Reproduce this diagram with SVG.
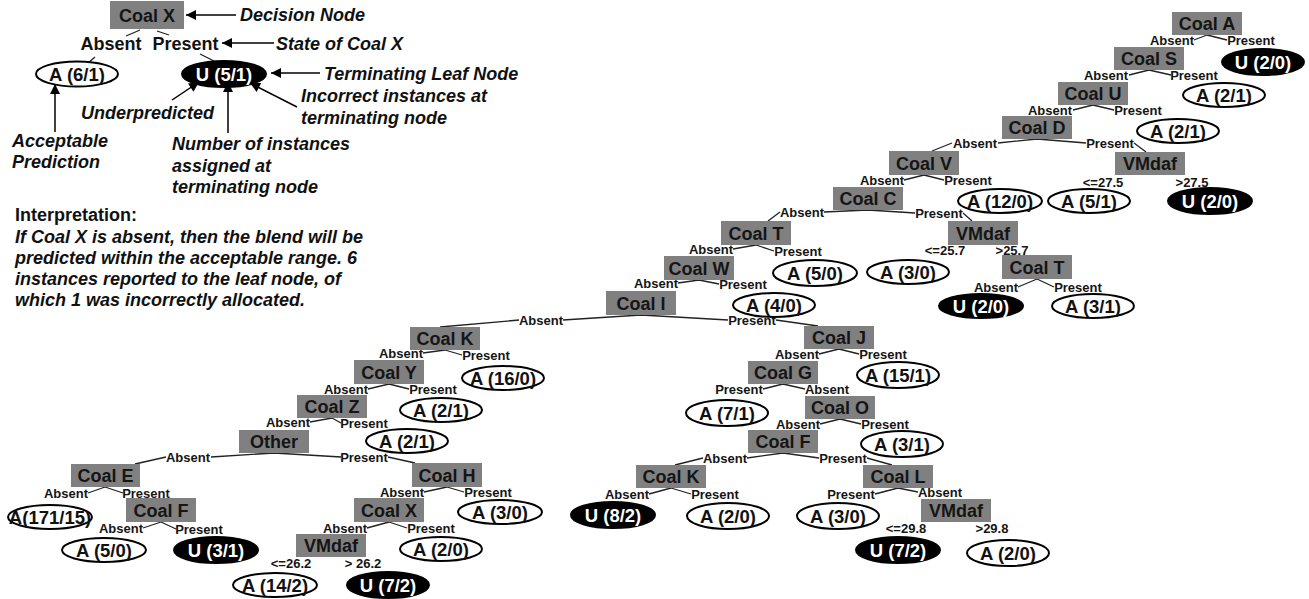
<svg xmlns="http://www.w3.org/2000/svg" width="1309" height="599" viewBox="0 0 1309 599">
<defs>
<marker id="ah" viewBox="0 0 10 10" refX="10" refY="5" markerWidth="11" markerHeight="10" markerUnits="userSpaceOnUse" orient="auto"><path d="M0,0 L10,5 L0,10 z" fill="#000"/></marker>
</defs>
<style>
.box{fill:#808080}
.bt{font:bold 18px 'Liberation Sans',Arial,sans-serif;fill:#151515;text-anchor:middle}
.lb{font:bold 13px 'Liberation Sans',Arial,sans-serif;fill:#151515;text-anchor:middle}
.la{fill:#fff;stroke:#000;stroke-width:2}
.lu{fill:#000;stroke:#000;stroke-width:2}
.ta{font:bold 18.5px 'Liberation Sans',Arial,sans-serif;fill:#111;text-anchor:middle}
.tu{font:bold 18.5px 'Liberation Sans',Arial,sans-serif;fill:#fff;text-anchor:middle}
.edge{stroke:#222;stroke-width:1.3;fill:none}
.arr{stroke:#000;stroke-width:1.5;fill:none;marker-end:url(#ah)}
.note{font:italic bold 18px 'Liberation Sans',Arial,sans-serif;fill:#111}
.st{font:bold 18px 'Liberation Sans',Arial,sans-serif;fill:#111}
</style>
<rect width="1309" height="599" fill="#fff"/>

<!-- key -->
<g id="key">
<path class="edge" d="M140,30 L126,36 M157,31 L169,35 M200,54 L214,61 M95,57 L88,63"/>
<rect class="box" x="110" y="1" width="74" height="28"/>
<text class="bt" x="147" y="22">Coal X</text>
<text class="st" x="111" y="50" text-anchor="middle">Absent</text>
<text class="st" x="185.5" y="50" text-anchor="middle">Present</text>
<ellipse class="la" cx="77" cy="74" rx="41" ry="12.5"/>
<text class="ta" x="77" y="80.5">A (6/1)</text>
<ellipse class="lu" cx="224" cy="74" rx="42" ry="13"/>
<text class="tu" x="224" y="80.5">U (5/1)</text>
<path class="arr" d="M236,15 L186,15"/>
<path class="arr" d="M274,43 L222,43"/>
<path class="arr" d="M320,73 L271,73"/>
<path class="arr" d="M55,132 L55,84"/>
<path class="arr" d="M172,100 L199,82"/>
<path class="arr" d="M228,133 L228,82"/>
<path class="arr" d="M297,107 L250,83"/>
<text class="note" x="240" y="21">Decision Node</text>
<text class="note" x="276" y="50">State of Coal X</text>
<text class="note" x="324" y="80">Terminating Leaf Node</text>
<text class="note" x="81" y="119">Underpredicted</text>
<text class="note" x="301" y="102">Incorrect instances at</text>
<text class="note" x="301" y="124">terminating node</text>
<text class="note" x="12" y="147">Acceptable</text>
<text class="note" x="12" y="168">Prediction</text>
<text class="note" x="172" y="150">Number of instances</text>
<text class="note" x="172" y="172">assigned at</text>
<text class="note" x="172" y="193">terminating node</text>
</g>

<g id="interpretation">
<text class="st" x="15" y="221">Interpretation:</text>
<text class="note" x="15" y="243">If Coal X is absent, then the blend will be</text>
<text class="note" x="15" y="264">predicted within the acceptable range. 6</text>
<text class="note" x="15" y="285">instances reported to the leaf node, of</text>
<text class="note" x="15" y="306">which 1 was incorrectly allocated.</text>
</g>

<!-- branches and their labels -->
<g id="connectors">
<path class="edge" d="
M1207,35 L1194,40 M1207,35 L1227,40
M1149,70 L1129,75 M1149,70 L1171,75
M1093,105 L1073,110 M1093,105 L1114,110
M1037,139 L998,143 M1037,139 L1086,143 M952,143 L932,151 M1134,143 L1146,152
M924,175 L904,180 M924,175 L944,180
M868,210 L824,212 M868,210 L915,213 M780,212 L768,221 M963,213 L972,221
M1037,279 L1018,287 M1037,279 L1054,287
M756,245 L733,249 M756,245 L774,251
M699,280 L678,283 M699,280 L719,284
M641,315 L563,320 M641,315 L728,320 M519,320 L440,327 M776,320 L818,326
M839,349 L819,354 M839,349 L859,354
M783,384 L763,389 M783,384 L805,389
M840,419 L820,424 M840,419 L861,424
M783,453 L747,458 M783,453 L819,458 M703,458 L675,465 M867,458 L892,465
M671,488 L649,494 M671,488 L691,494
M898,488 L875,494 M898,488 L918,492
M445,350 L423,353 M445,350 L462,355
M389,384 L368,389 M389,384 L409,389
M332,418 L310,422 M332,418 L341,423
M274,453 L211,457 M274,453 L341,457 M166,457 L135,464 M388,457 L415,463
M105,487 L88,493 M105,487 L123,493
M161,522 L143,528 M161,522 L176,529
M447,487 L424,492 M447,487 L464,492
M389,522 L367,528 M389,522 L407,528"/>
<text class="lb" x="1172" y="45">Absent</text><text class="lb" x="1251" y="45">Present</text>
<text class="lb" x="1106" y="80">Absent</text><text class="lb" x="1194" y="80">Present</text>
<text class="lb" x="1050" y="115">Absent</text><text class="lb" x="1138" y="115">Present</text>
<text class="lb" x="975" y="148">Absent</text><text class="lb" x="1110" y="148">Present</text>
<text class="lb" x="1103" y="187">&lt;=27.5</text><text class="lb" x="1192" y="187">&gt;27.5</text>
<text class="lb" x="882" y="185">Absent</text><text class="lb" x="968" y="185">Present</text>
<text class="lb" x="802" y="217">Absent</text><text class="lb" x="939" y="218">Present</text>
<text class="lb" x="945" y="255">&lt;=25.7</text><text class="lb" x="1012" y="255">&gt;25.7</text>
<text class="lb" x="996" y="292">Absent</text><text class="lb" x="1078" y="292">Present</text>
<text class="lb" x="711" y="254">Absent</text><text class="lb" x="798" y="256">Present</text>
<text class="lb" x="656" y="288">Absent</text><text class="lb" x="743" y="289">Present</text>
<text class="lb" x="541" y="325">Absent</text><text class="lb" x="752" y="325">Present</text>
<text class="lb" x="797" y="359">Absent</text><text class="lb" x="883" y="359">Present</text>
<text class="lb" x="739" y="394">Present</text><text class="lb" x="827" y="394">Absent</text>
<text class="lb" x="798" y="429">Absent</text><text class="lb" x="885" y="429">Present</text>
<text class="lb" x="725" y="463">Absent</text><text class="lb" x="843" y="463">Present</text>
<text class="lb" x="627" y="499">Absent</text><text class="lb" x="715" y="499">Present</text>
<text class="lb" x="851" y="499">Present</text><text class="lb" x="940" y="497">Absent</text>
<text class="lb" x="906" y="533">&lt;=29.8</text><text class="lb" x="992" y="533">&gt;29.8</text>
<text class="lb" x="401" y="358">Absent</text><text class="lb" x="486" y="360">Present</text>
<text class="lb" x="346" y="394">Absent</text><text class="lb" x="433" y="394">Present</text>
<text class="lb" x="288" y="427">Absent</text><text class="lb" x="364" y="428">Present</text>
<text class="lb" x="188" y="462">Absent</text><text class="lb" x="364" y="462">Present</text>
<text class="lb" x="66" y="498">Absent</text><text class="lb" x="146" y="498">Present</text>
<text class="lb" x="121" y="533">Absent</text><text class="lb" x="199" y="534">Present</text>
<text class="lb" x="402" y="497">Absent</text><text class="lb" x="488" y="497">Present</text>
<text class="lb" x="345" y="533">Absent</text><text class="lb" x="431" y="533">Present</text>
<text class="lb" x="291" y="568">&lt;=26.2</text><text class="lb" x="363" y="568">&gt; 26.2</text>
</g>

<!-- decision nodes -->
<g id="decisions">
<g id="coal-a"><rect class="box" x="1172" y="12" width="70" height="23"/><text class="bt" x="1207" y="30">Coal A</text></g>
<g id="coal-s"><rect class="box" x="1114" y="47" width="70" height="23"/><text class="bt" x="1149" y="65">Coal S</text></g>
<g id="coal-u"><rect class="box" x="1058" y="82" width="70" height="23"/><text class="bt" x="1093" y="100">Coal U</text></g>
<g id="coal-d"><rect class="box" x="1002" y="116" width="70" height="23"/><text class="bt" x="1037" y="134">Coal D</text></g>
<g id="vmdaf-d"><rect class="box" x="1115" y="152" width="70" height="23"/><text class="bt" x="1150" y="170">VMdaf</text></g>
<g id="coal-v"><rect class="box" x="889" y="151" width="70" height="24"/><text class="bt" x="924" y="170">Coal V</text></g>
<g id="coal-c"><rect class="box" x="833" y="187" width="70" height="23"/><text class="bt" x="868" y="205">Coal C</text></g>
<g id="vmdaf-c"><rect class="box" x="948" y="221" width="70" height="24"/><text class="bt" x="983" y="240">VMdaf</text></g>
<g id="coal-t2"><rect class="box" x="1002" y="255" width="70" height="24"/><text class="bt" x="1037" y="274">Coal T</text></g>
<g id="coal-t"><rect class="box" x="721" y="221" width="70" height="24"/><text class="bt" x="756" y="240">Coal T</text></g>
<g id="coal-w"><rect class="box" x="664" y="256" width="70" height="24"/><text class="bt" x="699" y="275">Coal W</text></g>
<g id="coal-i"><rect class="box" x="606" y="291" width="70" height="24"/><text class="bt" x="641" y="310">Coal I</text></g>
<g id="coal-j"><rect class="box" x="804" y="326" width="70" height="23"/><text class="bt" x="839" y="344">Coal J</text></g>
<g id="coal-g"><rect class="box" x="748" y="361" width="70" height="23"/><text class="bt" x="783" y="379">Coal G</text></g>
<g id="coal-o"><rect class="box" x="805" y="396" width="70" height="23"/><text class="bt" x="840" y="414">Coal O</text></g>
<g id="coal-f2"><rect class="box" x="748" y="430" width="70" height="23"/><text class="bt" x="783" y="448">Coal F</text></g>
<g id="coal-k2"><rect class="box" x="636" y="465" width="70" height="23"/><text class="bt" x="671" y="483">Coal K</text></g>
<g id="coal-l"><rect class="box" x="863" y="465" width="70" height="23"/><text class="bt" x="898" y="483">Coal L</text></g>
<g id="vmdaf-l"><rect class="box" x="921" y="499" width="70" height="23"/><text class="bt" x="956" y="517">VMdaf</text></g>
<g id="coal-k"><rect class="box" x="410" y="327" width="70" height="23"/><text class="bt" x="445" y="345">Coal K</text></g>
<g id="coal-y"><rect class="box" x="354" y="360" width="70" height="24"/><text class="bt" x="389" y="379">Coal Y</text></g>
<g id="coal-z"><rect class="box" x="297" y="395" width="70" height="23"/><text class="bt" x="332" y="413">Coal Z</text></g>
<g id="other"><rect class="box" x="239" y="430" width="70" height="23"/><text class="bt" x="274" y="448">Other</text></g>
<g id="coal-e"><rect class="box" x="71" y="464" width="69" height="23"/><text class="bt" x="105.5" y="482">Coal E</text></g>
<g id="coal-f"><rect class="box" x="126" y="498" width="70" height="24"/><text class="bt" x="161" y="517">Coal F</text></g>
<g id="coal-h"><rect class="box" x="412" y="463" width="70" height="24"/><text class="bt" x="447" y="482">Coal H</text></g>
<g id="coal-x"><rect class="box" x="354" y="498" width="70" height="24"/><text class="bt" x="389" y="517">Coal X</text></g>
<g id="vmdaf-x"><rect class="box" x="296" y="534" width="70" height="23"/><text class="bt" x="331" y="552">VMdaf</text></g>
</g>

<!-- leaf nodes -->
<g id="leaves">
<g id="leaf-a-u"><ellipse class="lu" cx="1263" cy="62" rx="41" ry="13"/><text class="tu" x="1263" y="68.5">U (2/0)</text></g>
<g id="leaf-s-a"><ellipse class="la" cx="1224" cy="95" rx="41" ry="12"/><text class="ta" x="1224" y="101.5">A (2/1)</text></g>
<g id="leaf-u-a"><ellipse class="la" cx="1178" cy="131" rx="41" ry="12"/><text class="ta" x="1178" y="137.5">A (2/1)</text></g>
<g id="leaf-vd-a"><ellipse class="la" cx="1089" cy="201" rx="41" ry="12"/><text class="ta" x="1089" y="207.5">A (5/1)</text></g>
<g id="leaf-vd-u"><ellipse class="lu" cx="1210" cy="201" rx="42" ry="13"/><text class="tu" x="1210" y="207.5">U (2/0)</text></g>
<g id="leaf-v-a"><ellipse class="la" cx="1000" cy="201" rx="42" ry="12"/><text class="ta" x="1000" y="207.5">A (12/0)</text></g>
<g id="leaf-vc-a"><ellipse class="la" cx="908" cy="272" rx="41" ry="12"/><text class="ta" x="908" y="278.5">A (3/0)</text></g>
<g id="leaf-t2-u"><ellipse class="lu" cx="981" cy="306" rx="42" ry="12"/><text class="tu" x="981" y="312.5">U (2/0)</text></g>
<g id="leaf-t2-a"><ellipse class="la" cx="1093" cy="306" rx="41" ry="12"/><text class="ta" x="1093" y="312.5">A (3/1)</text></g>
<g id="leaf-t-a"><ellipse class="la" cx="815" cy="273" rx="42" ry="13"/><text class="ta" x="815" y="279.5">A (5/0)</text></g>
<g id="leaf-w-a"><ellipse class="la" cx="774" cy="305" rx="41" ry="12"/><text class="ta" x="774" y="311.5">A (4/0)</text></g>
<g id="leaf-j-a"><ellipse class="la" cx="898" cy="375" rx="41" ry="13"/><text class="ta" x="898" y="381.5">A (15/1)</text></g>
<g id="leaf-g-a"><ellipse class="la" cx="727" cy="413" rx="41" ry="13"/><text class="ta" x="727" y="419.5">A (7/1)</text></g>
<g id="leaf-o-a"><ellipse class="la" cx="902" cy="444" rx="41" ry="13"/><text class="ta" x="902" y="450.5">A (3/1)</text></g>
<g id="leaf-k2-u"><ellipse class="lu" cx="613" cy="515" rx="42" ry="13"/><text class="tu" x="613" y="521.5">U (8/2)</text></g>
<g id="leaf-k2-a"><ellipse class="la" cx="728" cy="516" rx="41" ry="13"/><text class="ta" x="728" y="522.5">A (2/0)</text></g>
<g id="leaf-l-a"><ellipse class="la" cx="838" cy="516" rx="41" ry="13"/><text class="ta" x="838" y="522.5">A (3/0)</text></g>
<g id="leaf-vl-u"><ellipse class="lu" cx="898" cy="550" rx="42" ry="13"/><text class="tu" x="898" y="556.5">U (7/2)</text></g>
<g id="leaf-vl-a"><ellipse class="la" cx="1008" cy="553" rx="41" ry="13"/><text class="ta" x="1008" y="559.5">A (2/0)</text></g>
<g id="leaf-k-a"><ellipse class="la" cx="503" cy="378" rx="41" ry="12"/><text class="ta" x="503" y="384.5">A (16/0)</text></g>
<g id="leaf-y-a"><ellipse class="la" cx="441" cy="410" rx="41" ry="12"/><text class="ta" x="441" y="416.5">A (2/1)</text></g>
<g id="leaf-z-a"><ellipse class="la" cx="407" cy="441" rx="41" ry="12"/><text class="ta" x="407" y="447.5">A (2/1)</text></g>
<g id="leaf-e-a"><ellipse class="la" cx="50" cy="517" rx="42" ry="12"/><text class="ta" x="50" y="523.5">A(171/15)</text></g>
<g id="leaf-f-a"><ellipse class="la" cx="104" cy="550" rx="42" ry="12"/><text class="ta" x="104" y="556.5">A (5/0)</text></g>
<g id="leaf-f-u"><ellipse class="lu" cx="216" cy="550" rx="42" ry="13"/><text class="tu" x="216" y="556.5">U (3/1)</text></g>
<g id="leaf-h-a"><ellipse class="la" cx="500" cy="512" rx="42" ry="12"/><text class="ta" x="500" y="518.5">A (3/0)</text></g>
<g id="leaf-x-a"><ellipse class="la" cx="441" cy="549" rx="41" ry="12"/><text class="ta" x="441" y="555.5">A (2/0)</text></g>
<g id="leaf-vx-a"><ellipse class="la" cx="275" cy="585" rx="42" ry="12"/><text class="ta" x="275" y="591.5">A (14/2)</text></g>
<g id="leaf-vx-u"><ellipse class="lu" cx="388" cy="585" rx="41" ry="13"/><text class="tu" x="388" y="591.5">U (7/2)</text></g>
</g>
</svg>
